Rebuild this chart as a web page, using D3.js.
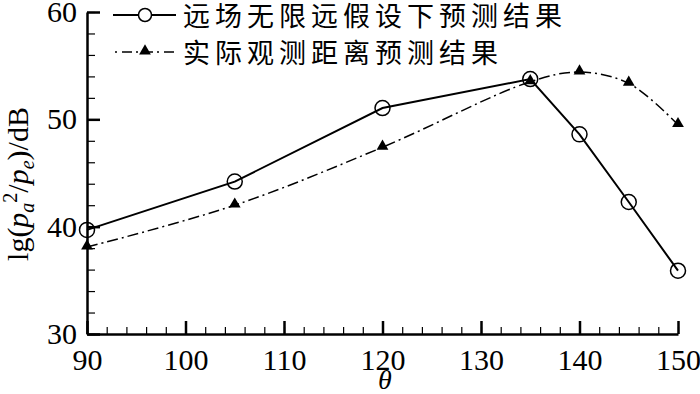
<!DOCTYPE html>
<html>
<head>
<meta charset="utf-8">
<script src="https://cdn.jsdelivr.net/npm/d3@7"></script>
<style>
  body { margin: 0; background: #fff; }
  svg { display: block; }
</style>
</head>
<body>
<svg></svg>
<script>
// angles and the two predicted curves
let angles = [90, 105, 120, 135, 140, 145, 150]
let farField = [39.7, 44.2, 51.05, 53.75, 48.6, 42.3, 35.9]
let measured = [38.1, 42.0, 47.4, 53.5, 54.4, 53.35, 49.5]
let seriesNames = ["远场无限远假设下预测结果", "实际观测距离预测结果"]
let xTicks = [90, 100, 110, 120, 130, 140, 150]
let yTicks = [30, 40, 50, 60]

let svgWidth = 700, svgHeight = 394;
let svg = d3.select('svg')
   .attr("width", svgWidth)
   .attr("height", svgHeight);

let xScale = d3.scaleLinear().domain([90, 150]).range([87, 678]);
let yScale = d3.scaleLinear().domain([30, 60]).range([334, 12]);

let serif = "'Liberation Serif', 'Times New Roman', serif";

// minor ticks first
svg.append("g")
   .attr("transform", "translate(0,334)")
   .call(d3.axisBottom(xScale).tickValues(d3.range(90, 151, 2)).tickSize(-7).tickFormat(""))
   .call(g => g.select(".domain").remove())
   .selectAll("line").attr("stroke", "#000").attr("stroke-width", 1.2);

svg.append("g")
   .attr("transform", "translate(87,0)")
   .call(d3.axisLeft(yScale).tickValues(d3.range(30, 61, 2)).tickSize(-8).tickFormat(""))
   .call(g => g.select(".domain").remove())
   .selectAll("line").attr("stroke", "#000").attr("stroke-width", 1.2);

// major ticks + labels
let xAxis = svg.append("g")
   .attr("transform", "translate(0,334)")
   .call(d3.axisBottom(xScale).tickValues(xTicks).tickSizeInner(-13).tickSizeOuter(0).tickPadding(3));
xAxis.select(".domain").attr("stroke-width", 2.5);
xAxis.selectAll("line").attr("stroke-width", 2.5);
xAxis.selectAll("text")
   .attr("font-family", serif).attr("font-size", 30).attr("fill", "#000")
   .attr("y", 15).attr("dy", "0.71em");

let yAxis = svg.append("g")
   .attr("transform", "translate(87,0)")
   .call(d3.axisLeft(yScale).tickValues(yTicks).tickSizeInner(-13).tickSizeOuter(0).tickPadding(3));
yAxis.select(".domain").attr("stroke-width", 2.5);
yAxis.selectAll("line").attr("stroke-width", 2.5);
yAxis.selectAll("text")
   .attr("font-family", serif).attr("font-size", 30).attr("fill", "#000")
   .attr("x", -10);

// lines
let farLine = d3.line()
   .x((d, i) => xScale(angles[i]))
   .y(d => yScale(d));

let measLine = d3.line()
   .x((d, i) => xScale(angles[i]))
   .y(d => yScale(d))
   .curve(d3.curveCatmullRom.alpha(0.5));

svg.append("path")
   .attr("d", measLine(measured))
   .attr("fill", "none").attr("stroke", "#000").attr("stroke-width", 1.5)
   .attr("stroke-dasharray", "11,4,2,4");

svg.append("path")
   .attr("d", farLine(farField))
   .attr("fill", "none").attr("stroke", "#000").attr("stroke-width", 2);

let tri = d3.symbol().type(d3.symbolTriangle).size(60);

svg.selectAll(".tri")
   .data(measured)
   .enter()
   .append("path")
   .attr("class", "tri")
   .attr("d", tri)
   .attr("transform", (d, i) => "translate(" + xScale(angles[i]) + "," + (yScale(d) - 1) + ")")
   .attr("fill", "#000");

svg.selectAll(".circ")
   .data(farField)
   .enter()
   .append("circle")
   .attr("class", "circ")
   .attr("cx", (d, i) => xScale(angles[i]))
   .attr("cy", d => yScale(d))
   .attr("r", 7.5)
   .attr("fill", "none").attr("stroke", "#000").attr("stroke-width", 1.5);

// legend
let legend = svg.append("g");
legend.append("line").attr("x1", 113).attr("x2", 176).attr("y1", 15).attr("y2", 15)
   .attr("stroke", "#000").attr("stroke-width", 2);
legend.append("circle").attr("cx", 145).attr("cy", 15).attr("r", 6.5)
   .attr("fill", "#fff").attr("stroke", "#000").attr("stroke-width", 1.5);
legend.append("line").attr("x1", 115).attr("x2", 176).attr("y1", 52).attr("y2", 52)
   .attr("stroke", "#000").attr("stroke-width", 1.5).attr("stroke-dasharray", "2,5,10,4");
legend.append("path").attr("d", tri)
   .attr("transform", "translate(145,51)").attr("fill", "#000");

legend.selectAll("text")
   .data(seriesNames)
   .enter()
   .append("text")
   .attr("x", 183)
   .attr("y", (d, i) => 16 + i * 37)
   .attr("dy", "0.36em")
   .attr("font-family", "'Noto Sans CJK SC', sans-serif")
   .attr("font-size", 27)
   .attr("letter-spacing", 5)
   .attr("fill", "#000")
   .text(d => d);

// axis titles
svg.append("text")
   .attr("x", 385).attr("y", 389)
   .attr("text-anchor", "middle")
   .attr("font-family", serif).attr("font-style", "italic").attr("font-size", 28)
   .text("θ");

let yTitle = svg.append("text")
   .attr("transform", "translate(28,184) rotate(-90)")
   .attr("text-anchor", "middle")
   .attr("font-family", serif).attr("font-size", 30);
yTitle.append("tspan").text("lg(");
yTitle.append("tspan").attr("font-style", "italic").text("p");
yTitle.append("tspan").attr("font-style", "italic").attr("font-size", 20).attr("dy", 6).text("a");
yTitle.append("tspan").attr("font-size", 20).attr("dy", -17).text("2");
yTitle.append("tspan").attr("dy", 11).text("/");
yTitle.append("tspan").attr("font-style", "italic").text("p");
yTitle.append("tspan").attr("font-style", "italic").attr("font-size", 20).attr("dy", 6).text("e");
yTitle.append("tspan").attr("dy", -6).text(")/dB");
</script>
</body>
</html>
